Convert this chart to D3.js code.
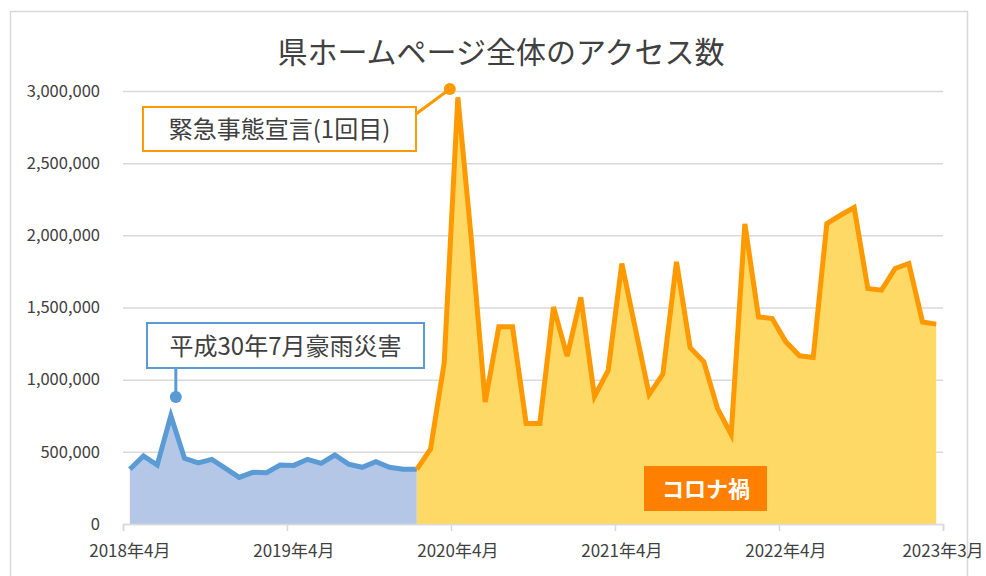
<!DOCTYPE html>
<html lang="ja">
<head>
    <meta charset="UTF-8">
    <title>県ホームページ全体のアクセス数</title>
    <script src="https://cdn.jsdelivr.net/npm/d3@7"></script>
    <style>
        body { margin: 0; background: #fff; }
        text { font-family: 'Noto Sans CJK JP', 'Noto Sans', sans-serif; fill: #404040; }
    </style>
</head>
<body>
<script>

    const width  = 986;
    const height = 576;

    // month index 0 = 2018年4月
    const tickLabels = ['2018年4月', '2019年4月', '2020年4月', '2021年4月', '2022年4月', '2023年3月'];
    const tickLabelMonths = [0, 12, 24, 36, 48, 59.5];
    const yTicks = [0, 500000, 1000000, 1500000, 2000000, 2500000, 3000000];

    // 2018年4月 .. 2020年1月
    const beforeMonths = d3.range(0, 22);
    const beforeValues = [
        379000, 471000, 408000, 750000, 455000, 424000, 448000, 386000,
        323000, 358000, 355000, 408000, 406000, 448000, 420000, 478000,
        415000, 393000, 431000, 393000, 379000, 379000
    ];

    // 2020年1月 .. 2023年3月
    const covidMonths = d3.range(21, 60);
    const covidValues = [
        379000, 519000, 1115000, 2956000, 1960000, 845000, 1366000, 1366000,
        697000, 697000, 1504000, 1163000, 1571000, 884000, 1064000, 1805000,
        1350000, 897000, 1038000, 1816000, 1222000, 1124000, 801000, 620000,
        2080000, 1435000, 1424000, 1262000, 1165000, 1154000, 2082000, 2139000,
        2193000, 1632000, 1620000, 1770000, 1805000, 1400000, 1385000
    ];

    const x = d3.scaleLinear().domain([-0.5, 59.5]).range([123, 943]);
    const y = d3.scaleLinear().domain([0, 3000000]).range([524, 91]);

    const svg = d3.select('body')
            .append('svg')
            .attr('width', width)
            .attr('height', height);

    // chart frame
    svg.append('rect')
            .attr('x', 10.5).attr('y', 11.5)
            .attr('width', 957).attr('height', 600)
            .attr('fill', 'none')
            .attr('stroke', '#d9d9d9')
            .attr('stroke-width', 1.5);

    svg.append('text')
            .text('県ホームページ全体のアクセス数')
            .attr('x', 501).attr('y', 63)
            .attr('text-anchor', 'middle')
            .style('font-size', '30px');

    // gridlines + y labels
    const yAxis = d3.axisLeft(y)
            .tickValues(yTicks)
            .tickSize(-(x.range()[1] - x.range()[0]))
            .tickPadding(23)
            .tickFormat(d3.format(','));

    const gy = svg.append('g')
            .attr('transform', 'translate(' + x.range()[0] + ',0)')
            .call(yAxis);
    gy.select('.domain').remove();
    gy.selectAll('line').attr('stroke', '#d9d9d9').attr('stroke-width', 1.5);
    gy.selectAll('text').style('font-size', '16.5px').attr('fill', '#404040');

    const area = d3.area()
            .x(d => x(d[0]))
            .y0(y(0))
            .y1(d => y(d[1]));
    const line = d3.line()
            .x(d => x(d[0]))
            .y(d => y(d[1]));

    const before = beforeMonths.map((m, i) => [m, beforeValues[i]]);
    const covid = covidMonths.map((m, i) => [m, covidValues[i]]);

    svg.append('path').attr('d', area(before)).attr('fill', '#b4c7e7');
    svg.append('path').attr('d', area(covid)).attr('fill', '#ffd966');

    // x axis
    const xAxis = d3.axisBottom(x)
            .tickValues(d3.range(-0.5, 60, 12))
            .tickSize(7)
            .tickFormat('');
    const gx = svg.append('g')
            .attr('transform', 'translate(0,' + y(0) + ')')
            .call(xAxis);
    gx.selectAll('path, line').attr('stroke', '#d9d9d9').attr('stroke-width', 1.5);

    svg.append('g')
            .selectAll('text')
            .data(tickLabels)
            .enter()
            .append('text')
            .text(d => d)
            .attr('x', (d, i) => x(tickLabelMonths[i]))
            .attr('y', 557)
            .attr('text-anchor', 'middle')
            .style('font-size', '17px');

    svg.append('path').attr('d', line(before))
            .attr('fill', 'none').attr('stroke', '#5b9bd5').attr('stroke-width', 5);
    svg.append('path').attr('d', line(covid))
            .attr('fill', 'none').attr('stroke', '#ff9900').attr('stroke-width', 5);

    // callouts
    function callout(box, dot, from, color, label) {
        svg.append('line')
                .attr('x1', from[0]).attr('y1', from[1])
                .attr('x2', dot[0]).attr('y2', dot[1])
                .attr('stroke', color).attr('stroke-width', 3);
        svg.append('circle')
                .attr('cx', dot[0]).attr('cy', dot[1]).attr('r', 6)
                .attr('fill', color);
        svg.append('rect')
                .attr('x', box[0]).attr('y', box[1])
                .attr('width', box[2]).attr('height', box[3])
                .attr('fill', '#fff')
                .attr('stroke', color).attr('stroke-width', 2);
        svg.append('text')
                .text(label)
                .attr('x', box[0] + box[2] / 2)
                .attr('y', box[1] + box[3] / 2 + 9)
                .attr('text-anchor', 'middle')
                .style('font-size', '24px');
    }

    callout([147, 323, 277, 45], [x(3) + 5, 397], [x(3) + 5, 368], '#5b9bd5', '平成30年7月豪雨災害');
    callout([143, 107, 273, 44], [x(24) - 8, 89], [416, 114], '#ff9900', '緊急事態宣言(1回目)');

    // コロナ禍 label
    svg.append('rect')
            .attr('x', 644).attr('y', 466)
            .attr('width', 123).attr('height', 45)
            .attr('fill', '#ff8000');
    svg.append('text')
            .text('コロナ禍')
            .attr('x', 706).attr('y', 497)
            .attr('text-anchor', 'middle')
            .style('font-size', '22px')
            .style('font-weight', 'bold')
            .style('fill', '#fff');

</script>
</body>
</html>
